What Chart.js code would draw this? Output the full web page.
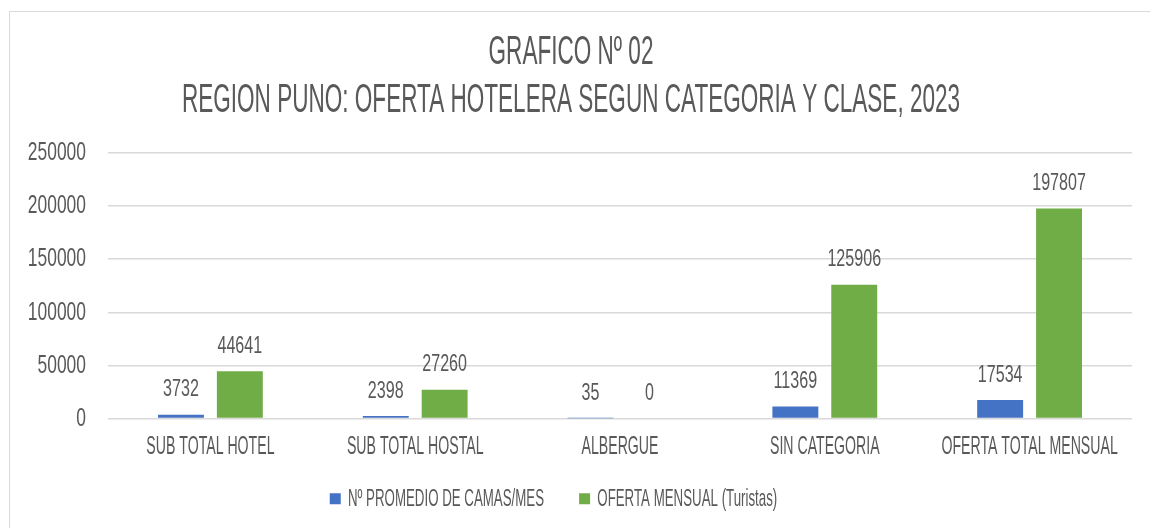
<!DOCTYPE html>
<html><head><meta charset="utf-8">
<script src="https://cdn.jsdelivr.net/npm/chart.js@4"></script>
<style>
html,body{margin:0;padding:0;background:#fff;}
#wrap{position:absolute;left:0;top:0;width:1150px;height:528px;}
#frame{position:absolute;left:9px;top:11px;width:1160px;height:540px;border:1px solid #d9d9d9;box-sizing:border-box;}
canvas{position:absolute;left:0;top:0;}
</style></head>
<body><div id="wrap"><div id="frame"></div><canvas id="c" width="1150" height="528"></canvas></div>
<script>
const categories = ["SUB TOTAL HOTEL","SUB TOTAL HOSTAL","ALBERGUE","SIN CATEGORIA","OFERTA TOTAL MENSUAL"];
const seriesNames = ["Nº PROMEDIO DE CAMAS/MES","OFERTA MENSUAL (Turistas)"];
const camasMes = [3732, 2398, 35, 11369, 17534];
const ofertaMensual = [44641, 27260, 0, 125906, 197807];
const yTicks = [0, 50000, 100000, 150000, 200000, 250000];
const titleLines = ["GRAFICO Nº 02","REGION PUNO: OFERTA HOTELERA SEGUN CATEGORIA Y CLASE, 2023"];

// condensed text rendering (horizontal squeeze to imitate the narrow display face)
(function(){
  const P = CanvasRenderingContext2D.prototype;
  const of = P.fillText, om = P.measureText;
  function sx(ctx, t){
    const m = /(\d+(?:\.\d+)?)px/.exec(ctx.font);
    const size = m ? parseFloat(m[1]) : 12;
    if (size >= 35) return 0.55;
    if (/^[\d\s.,]+$/.test(String(t))) return 0.67;
    return size < 24.5 ? 0.545 : 0.565;
  }
  P.fillText = function(t,x,y,mw){
    const s = sx(this,t);
    this.save(); this.translate(x,y); this.scale(s,1);
    if (mw === undefined) of.call(this,t,0,0); else of.call(this,t,0,0,mw/s);
    this.restore();
  };
  P.measureText = function(t){
    const m = om.call(this,t), s = sx(this,t);
    return {width:m.width*s,
      actualBoundingBoxAscent:m.actualBoundingBoxAscent,
      actualBoundingBoxDescent:m.actualBoundingBoxDescent,
      actualBoundingBoxLeft:m.actualBoundingBoxLeft*s,
      actualBoundingBoxRight:m.actualBoundingBoxRight*s,
      fontBoundingBoxAscent:m.fontBoundingBoxAscent,
      fontBoundingBoxDescent:m.fontBoundingBoxDescent};
  };
})();

const FONT = "'Liberation Sans Narrow','Liberation Sans',sans-serif";
const GREY = '#595959';

const valueLabels = {
  id:'valueLabels',
  afterLayout(chart){
    if (chart.legend) { chart.legend.left -= 15; chart.legend.right -= 15; }
  },
  afterDatasetsDraw(chart){
    const ctx = chart.ctx;
    ctx.save();
    ctx.font = "24px " + FONT;
    ctx.fillStyle = GREY;
    ctx.textAlign = 'center';
    ctx.textBaseline = 'middle';
    chart.data.datasets.forEach((ds,i)=>{
      chart.getDatasetMeta(i).data.forEach((bar,j)=>{
        ctx.fillText(String(ds.data[j]), bar.x, bar.y - 25);
      });
    });
    ctx.restore();
  }
};

new Chart(document.getElementById('c'), {
  type:'bar',
  data:{
    labels:categories,
    datasets:[
      {label:seriesNames[0], data:camasMes, backgroundColor:'#4472C4', categoryPercentage:0.575, barPercentage:0.78},
      {label:seriesNames[1], data:ofertaMensual, backgroundColor:'#70AD47', categoryPercentage:0.575, barPercentage:0.78}
    ]
  },
  options:{
    responsive:false, animation:false,
    layout:{padding:{left:10,right:18,top:0,bottom:7}},
    plugins:{
      title:{display:true, text:titleLines, color:GREY,
        font:{family:FONT, size:41, weight:'normal', lineHeight:1.17},
        padding:{top:29,bottom:28}},
      legend:{position:'bottom',
        labels:{color:GREY, font:{family:FONT,size:24.4}, usePointStyle:true, pointStyle:'rect',
          boxWidth:1, boxHeight:11, padding:40}},
      tooltip:{enabled:false}
    },
    scales:{
      x:{grid:{display:false, drawTicks:false}, border:{display:false},
        afterFit(s){ s.height = 28; s._computeLabelArea = () => undefined; },
        ticks:{color:GREY, font:{family:FONT,size:25}, padding:14, maxRotation:0, minRotation:0, autoSkip:false}},
      y:{min:0,max:250000, afterBuildTicks(s){ s.ticks = yTicks.map(v=>({value:v})); },
        afterFit(s){ s.width = 98; },
        grid:{color:'#d9d9d9', lineWidth:1.5, drawTicks:false}, border:{display:false},
        ticks:{color:GREY, font:{family:FONT,size:26}, padding:22, callback:v=>String(v)}}
    }
  },
  plugins:[valueLabels]
});
</script></body></html>
